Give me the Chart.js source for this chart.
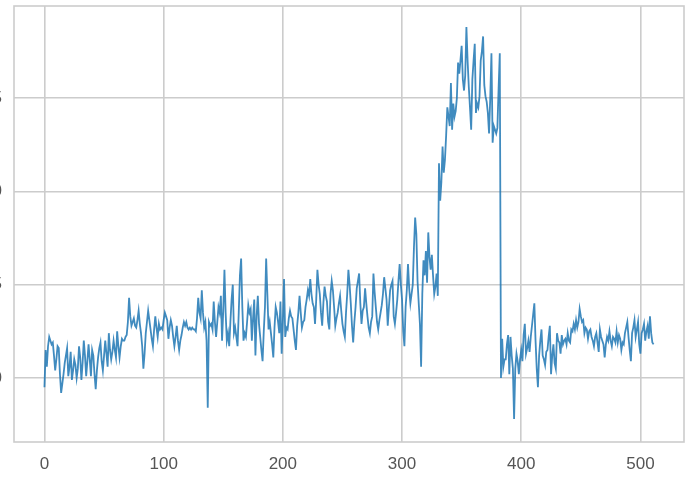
<!DOCTYPE html>
<html>
<head>
<meta charset="utf-8">
<script src="https://cdn.jsdelivr.net/npm/chart.js@4/dist/chart.umd.min.js"></script>
<style>
  html, body { margin: 0; padding: 0; background: #fff; overflow: hidden; }
  #wrap { position: absolute; left: -30px; top: 0; width: 717px; height: 479px; }
</style>
</head>
<body>
<div id="wrap"><canvas id="chart" width="717" height="479"></canvas></div>
<script>
// valeurs (index 0..511)
const values = [
  -0.05,0.15,0.06,0.17,0.22,0.20,0.18,0.19,0.12,0.04,
  0.10,0.17,0.16,0.02,-0.08,-0.03,0.02,0.08,0.12,0.16,
  0.01,0.06,0.14,-0.01,0.04,0.10,0.07,0.00,0.05,0.17,
  0.11,-0.01,0.08,0.20,0.12,0.01,0.09,0.18,0.10,0.01,
  0.15,0.12,0.02,-0.06,0.04,0.11,0.16,0.19,0.09,0.04,
  0.12,0.20,0.13,0.06,0.24,0.15,0.10,0.14,0.20,0.15,
  0.11,0.25,0.17,0.11,0.17,0.21,0.20,0.20,0.22,0.23,
  0.30,0.43,0.33,0.28,0.30,0.32,0.28,0.27,0.31,0.36,
  0.29,0.24,0.17,0.05,0.13,0.24,0.30,0.36,0.31,0.26,
  0.21,0.17,0.26,0.33,0.27,0.22,0.29,0.26,0.27,0.26,
  0.31,0.35,0.33,0.31,0.21,0.27,0.31,0.28,0.22,0.17,
  0.22,0.28,0.20,0.15,0.20,0.23,0.27,0.30,0.28,0.30,
  0.27,0.26,0.27,0.26,0.27,0.26,0.26,0.25,0.32,0.43,
  0.35,0.32,0.47,0.35,0.27,0.30,0.20,-0.16,0.30,0.28,
  0.29,0.26,0.41,0.30,0.22,0.30,0.38,0.35,0.44,0.20,
  0.36,0.58,0.35,0.20,0.24,0.17,0.30,0.42,0.50,0.24,
  0.27,0.22,0.17,0.35,0.55,0.64,0.38,0.20,0.24,0.22,
  0.30,0.39,0.35,0.37,0.20,0.32,0.42,0.12,0.33,0.44,
  0.29,0.22,0.15,0.09,0.25,0.38,0.64,0.45,0.26,0.30,
  0.24,0.18,0.11,0.27,0.38,0.35,0.30,0.24,0.41,0.13,
  0.30,0.53,0.22,0.27,0.26,0.32,0.36,0.33,0.32,0.26,
  0.20,0.15,0.28,0.35,0.44,0.35,0.27,0.30,0.31,0.38,
  0.42,0.47,0.44,0.53,0.45,0.40,0.38,0.29,0.42,0.58,
  0.50,0.45,0.35,0.28,0.40,0.49,0.44,0.41,0.30,0.26,
  0.45,0.52,0.47,0.38,0.28,0.32,0.35,0.40,0.44,0.36,
  0.29,0.25,0.22,0.35,0.45,0.58,0.50,0.40,0.28,0.19,
  0.30,0.38,0.48,0.52,0.56,0.40,0.29,0.36,0.38,0.48,
  0.40,0.33,0.27,0.24,0.30,0.33,0.56,0.46,0.38,0.30,
  0.26,0.31,0.35,0.39,0.45,0.54,0.48,0.42,0.28,0.38,
  0.47,0.50,0.52,0.33,0.29,0.35,0.42,0.52,0.61,0.50,
  0.42,0.25,0.17,0.38,0.47,0.61,0.48,0.40,0.45,0.50,
  0.70,0.86,0.77,0.52,0.40,0.29,0.06,0.45,0.63,0.55,
  0.68,0.51,0.78,0.65,0.58,0.66,0.55,0.45,0.49,0.56,
  0.44,1.15,0.95,1.05,1.24,1.10,1.17,1.30,1.45,1.40,
  1.35,1.58,1.33,1.47,1.40,1.43,1.50,1.69,1.63,1.70,
  1.78,1.60,1.54,1.62,1.88,1.70,1.56,1.45,1.33,1.60,
  1.70,1.79,1.42,1.47,1.45,1.51,1.70,1.75,1.83,1.57,
  1.51,1.48,1.42,1.31,1.50,1.74,1.26,1.35,1.33,1.31,
  1.34,1.55,1.74,0.00,0.21,0.06,0.10,0.10,0.18,0.23,
  0.02,0.22,0.12,0.05,-0.22,0.05,0.13,0.09,0.02,0.10,
  0.15,0.09,0.23,0.29,0.13,0.16,0.20,0.14,0.22,0.28,
  0.34,0.40,0.20,0.05,-0.05,0.12,0.20,0.26,0.12,0.10,
  0.07,0.14,0.15,0.22,0.28,0.02,0.12,0.18,0.08,0.05,
  0.24,0.20,0.19,0.13,0.23,0.18,0.20,0.21,0.18,0.24,
  0.20,0.19,0.26,0.25,0.29,0.26,0.31,0.27,0.30,0.37,
  0.33,0.30,0.31,0.24,0.27,0.26,0.21,0.25,0.26,0.22,
  0.20,0.17,0.22,0.24,0.19,0.14,0.26,0.22,0.20,0.18,
  0.11,0.18,0.22,0.20,0.25,0.20,0.17,0.22,0.21,0.19,
  0.25,0.19,0.23,0.21,0.15,0.19,0.18,0.24,0.27,0.30,
  0.22,0.15,0.09,0.24,0.27,0.31,0.22,0.26,0.30,0.18,
  0.13,0.24,0.26,0.29,0.20,0.25,0.28,0.21,0.33,0.24,
  0.19,0.18
];
const xTicks = [0, 100, 200, 300, 400, 500];
const yTicks = [0.0, 0.5, 1.0, 1.5];

const points = values.map((v, i) => ({ x: i, y: v }));

// cadre gris autour de la zone de tracé
const frame = {
  id: 'frame',
  afterDraw(chart) {
    const a = chart.chartArea;
    const ctx = chart.ctx;
    ctx.save();
    ctx.strokeStyle = '#cccccc';
    ctx.lineWidth = 1.6;
    ctx.strokeRect(a.left, a.top, a.right - a.left, a.bottom - a.top);
    ctx.restore();
  }
};

new Chart(document.getElementById('chart'), {
  type: 'line',
  data: {
    datasets: [{
      data: points,
      borderColor: 'rgba(31,119,180,0.85)',
      borderWidth: 1.8,
      pointRadius: 0,
      tension: 0,
      fill: false
    }]
  },
  options: {
    responsive: false,
    animation: false,
    layout: { padding: { top: 6, right: 3, left: 0, bottom: 0 } },
    plugins: { legend: { display: false }, tooltip: { enabled: false } },
    scales: {
      x: {
        type: 'linear',
        min: -25.55,
        max: 536.55,
        afterFit(scale) {
          scale.height = 37;
          scale.paddingLeft = 0;
          scale.paddingRight = 0;
        },
        afterBuildTicks(scale) { scale.ticks = xTicks.map(v => ({ value: v })); },
        grid: { color: '#cccccc', lineWidth: 1.6, drawTicks: false },
        border: { display: false },
        ticks: {
          padding: 12,
          color: '#555555',
          font: { family: 'Liberation Sans', size: 17 },
          maxRotation: 0,
          callback: v => String(v)
        }
      },
      y: {
        min: -0.343,
        max: 1.993,
        afterFit(scale) {
          scale.width = 44;
          scale.paddingTop = 0;
          scale.paddingBottom = 0;
        },
        afterBuildTicks(scale) { scale.ticks = yTicks.map(v => ({ value: v })); },
        grid: { color: '#cccccc', lineWidth: 1.6, drawTicks: false },
        border: { display: false },
        ticks: {
          padding: 12,
          color: '#555555',
          font: { family: 'Liberation Sans', size: 17 },
          callback: v => v.toFixed(1)
        }
      }
    }
  },
  plugins: [frame]
});
</script>
</body>
</html>
